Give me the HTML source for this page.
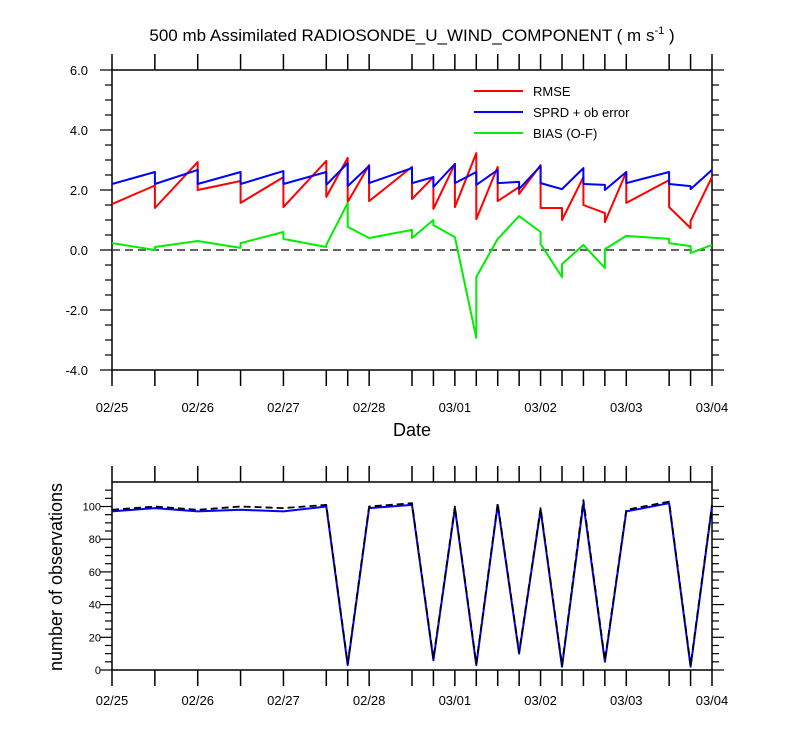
<!DOCTYPE html>
<html><head><meta charset="utf-8"><style>
body{margin:0;background:#fff;}
svg text{font-family:"Liberation Sans",sans-serif;}
</style></head><body>
<svg id="c" width="800" height="750" xmlns="http://www.w3.org/2000/svg">
<text x="412" y="41" text-anchor="middle" font-size="17">500 mb Assimilated RADIOSONDE_U_WIND_COMPONENT ( m s<tspan dy="-7" font-size="11">-1</tspan><tspan dy="7"> )</tspan></text>
</svg>
<script>
// time in hours since 02/25 00Z (duplicate times = vertical jumps)
const rmseT = [0,12,12,24,24,36,36,48,48,60,60,66,66,72,72,84,84,90,90,96,96,102,102,108,108,114,114,120,120,126,126,132,132,138,138,144,144,156,156,162,162,168];
const rmseV = [1.53,2.15,1.4,2.93,2.0,2.3,1.57,2.43,1.43,2.97,1.77,3.07,1.6,2.83,1.63,2.77,1.7,2.43,1.37,2.87,1.43,3.23,1.03,2.77,1.63,2.1,1.87,2.83,1.4,1.4,1.0,2.43,1.5,1.23,0.93,2.6,1.57,2.33,1.43,0.73,0.97,2.43];
const sprdT = [0,12,12,24,24,36,36,48,48,60,60,66,66,72,72,84,84,90,90,96,96,102,102,108,108,114,114,120,120,126,132,132,138,138,144,144,156,156,162,162,168];
const sprdV = [2.2,2.6,2.2,2.67,2.2,2.6,2.2,2.63,2.2,2.6,2.17,2.9,2.13,2.8,2.23,2.73,2.23,2.43,2.1,2.87,2.23,2.6,2.17,2.67,2.23,2.27,2.03,2.8,2.23,2.03,2.73,2.2,2.17,2.0,2.6,2.23,2.6,2.2,2.13,2.03,2.67];
const biasT = [0,12,12,24,36,36,48,48,60,60,66,66,72,84,84,90,90,96,102,102,108,114,120,120,126,126,132,138,138,144,156,156,162,162,168];
const biasV = [0.23,0.0,0.1,0.3,0.07,0.23,0.6,0.37,0.1,0.17,1.57,0.77,0.4,0.67,0.4,1.0,0.83,0.43,-2.93,-0.9,0.37,1.13,0.6,0.2,-0.9,-0.47,0.17,-0.6,0.03,0.47,0.37,0.23,0.13,-0.1,0.17];
const obsT = [0,12,24,36,48,60,66,72,84,90,96,102,108,114,120,126,132,138,144,156,162,168];
const obsUsed = [97,99,97,98,97,100,3,99,101,6,99,3,101,10,98,2,102,5,97,102,2,100];
const obsTotal = [98,100,98,100,99,101,4,100,102,7,100,4,102,11,99,3,104,6,98,103,3,101];
const dateLabels = ["02/25","02/26","02/27","02/28","03/01","03/02","03/03","03/04"];
const topYTicks = [6,4,2,0,-2,-4];
const botYTicks = [0,20,40,60,80,100];
const tickTimes = [0,12,24,36,48,60,66,72,84,90,96,102,108,114,120,126,132,138,144,156,162,168];

const svg=document.getElementById('c');
const NS='http://www.w3.org/2000/svg';
function mk(tag,attrs,parent){const e=document.createElementNS(NS,tag);for(const k in attrs)e.setAttribute(k,attrs[k]);(parent||svg).appendChild(e);return e;}
const X0=112,X1=712;
const xs=t=>X0+t/168*(X1-X0);
const yTop=v=>250-v*30;
const yBot=v=>670-v*1.635;

function frame(yA,yB,name,labOff){
  const r=mk('rect',{x:X0,y:yA,width:X1-X0,height:yB-yA,fill:'none',stroke:'#000','stroke-width':1.5});
  
  
  tickTimes.forEach(t=>{
    mk('line',{x1:xs(t),x2:xs(t),y1:yA,y2:yA-16,stroke:'#000','stroke-width':1.5});
    mk('line',{x1:xs(t),x2:xs(t),y1:yB,y2:yB+16,stroke:'#000','stroke-width':1.5});
  });
  dateLabels.forEach((d,i)=>{
    const tx=mk('text',{x:xs(i*24),y:yB+labOff,'text-anchor':'middle','font-size':13});
    tx.textContent=d;
    
    
  });
}
function path(T,V,ys,color,name,extra){
  let d='';T.forEach((t,i)=>{d+=(i?'L':'M')+xs(t).toFixed(1)+','+ys(V[i]).toFixed(1);});
  const p=mk('path',Object.assign({d:d,fill:'none',stroke:color,'stroke-width':2,'stroke-linejoin':'round'},extra||{}));
  
  
}

// top plot
frame(70,370,'top-plot-frame',42);
for(let v=-4;v<=6.001;v+=0.5){
  const major=Math.abs(v/2-Math.round(v/2))<1e-6;
  const L=major?12:7;
  mk('line',{x1:X0,x2:X0-L,y1:yTop(v),y2:yTop(v),stroke:'#000','stroke-width':1.2});
  mk('line',{x1:X1,x2:X1+L,y1:yTop(v),y2:yTop(v),stroke:'#000','stroke-width':1.2});
}
topYTicks.forEach(v=>{
  const tx=mk('text',{x:88,y:yTop(v)+5,'text-anchor':'end','font-size':13});
  tx.textContent=v.toFixed(1);
  
  
});
const zl=mk('line',{x1:X0,x2:X1,y1:yTop(0),y2:yTop(0),stroke:'#333','stroke-width':1.5,'stroke-dasharray':'8,5'});


path(rmseT,rmseV,yTop,'#ff0000','rmse-line');
path(sprdT,sprdV,yTop,'#0000ff','sprd-line');
path(biasT,biasV,yTop,'#00ee00','bias-line');
const dt=mk('text',{x:412,y:436,'text-anchor':'middle','font-size':18});
dt.textContent='Date';



// legend
[['RMSE','#ff0000'],['SPRD + ob error','#0000ff'],['BIAS (O-F)','#00ee00']].forEach((e,i)=>{
  const g=mk('g',{});
  
  
  const y=91+i*21;
  mk('line',{x1:474,x2:523,y1:y,y2:y,stroke:e[1],'stroke-width':2},g);
  const t=mk('text',{x:533,y:y+5,'font-size':13},g);t.textContent=e[0];
});

// bottom plot
frame(482,670,'bottom-plot-frame',35);
for(let v=0;v<=110;v+=5){
  const L=(v%20===0)?12:7;
  mk('line',{x1:X0,x2:X0-L,y1:yBot(v),y2:yBot(v),stroke:'#000','stroke-width':1.2});
  mk('line',{x1:X1,x2:X1+L,y1:yBot(v),y2:yBot(v),stroke:'#000','stroke-width':1.2});
}
botYTicks.forEach(v=>{
  const tx=mk('text',{x:101,y:yBot(v)+4,'text-anchor':'end','font-size':11});
  tx.textContent=v;
  
  
});
const yt=mk('text',{x:62,y:577,'text-anchor':'middle','font-size':18,transform:'rotate(-90 62 577)'});
yt.textContent='number of observations';


path(obsT,obsUsed,yBot,'#0000ff','obs-used-line');
path(obsT,obsTotal,yBot,'#000000','obs-total-line',{'stroke-dasharray':'7,4','stroke-width':1.8});
</script>
</body></html>
